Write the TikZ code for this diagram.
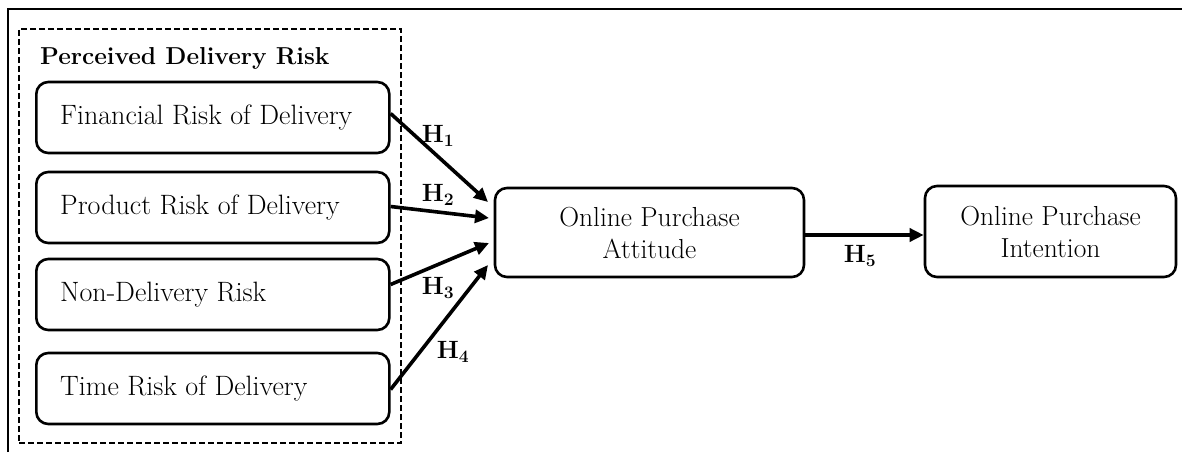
\documentclass[tikz,border=0pt]{standalone}
\usetikzlibrary{arrows.meta,calc}
\begin{document}
\begin{tikzpicture}[x=1pt,y=-1pt,
  riskbox/.style={draw,line width=2.6pt,rounded corners=12pt,minimum width=353pt,minimum height=71pt,anchor=west},
  mainbox/.style={draw,line width=2.6pt,rounded corners=12pt,align=center,font=\fontsize{27.5}{32}\selectfont},
  boxtext/.style={anchor=west,font=\fontsize{28}{32}\selectfont,inner sep=0pt},
  hlabel/.style={font=\fontsize{25}{30}\selectfont\bfseries,inner sep=0pt},
  hyp/.style={line width=3.6pt,-{Triangle[length=14pt,width=13pt]}}]
\useasboundingbox (0,0) rectangle (1182,452);
% outer frame (only top and left edges visible)
\draw[line width=2.6pt] (8,452) -- (8,9) -- (1182,9);
% dashed group
\node[draw,dash pattern=on 6pt off 3pt,line width=2pt,minimum width=382pt,minimum height=414pt,anchor=north west,inner sep=0pt] (grp) at (18,28) {};
\node[anchor=base west,font=\fontsize{24.5}{28}\selectfont\bfseries,inner sep=0pt] (title) at (40,64) {Perceived Delivery Risk};
% risk boxes
\node[riskbox] (b1) at (35,117.5) {};
\node[riskbox] (b2) at (35,207.5) {};
\node[riskbox] (b3) at (35,294.5) {};
\node[riskbox] (b4) at (35,388.5) {};
\node[boxtext] (t1) at (60,117.5) {Financial Risk of Delivery};
\node[boxtext] (t2) at (60,207.5) {Product Risk of Delivery};
\node[boxtext] (t3) at (60,294.5) {Non-Delivery Risk};
\node[boxtext] (t4) at (60,388.5) {Time Risk of Delivery};
% main boxes
\node[mainbox,minimum width=309pt,minimum height=89pt] (att) at (649.5,232.5) {Online Purchase\\Attitude};
\node[mainbox,minimum width=251pt,minimum height=91pt] (int) at (1050.5,231.5) {Online Purchase\\Intention};
% arrow targets
\coordinate (e1) at (488,202);
\coordinate (e2) at (489,218);
\coordinate (e3) at (489,243);
\coordinate (e4) at (488,265);
\draw[hyp] ($(b1.east)+(0,-4)$) -- (e1);
\draw[hyp] ($(b2.east)+(0,-1)$) -- (e2);
\draw[hyp] ($(b3.east)+(0,-10)$) -- (e3);
\draw[hyp] ($(b4.east)+(0,1)$) -- (e4);
\draw[hyp] ($(att.east)+(0,2.5)$) coordinate (s5) -- (s5 -| int.west);
% labels
\node[hlabel] (h1) at (438,136) {H\textsubscript{1}};
\node[hlabel] (h2) at (438,195) {H\textsubscript{2}};
\node[hlabel] (h3) at (438,288) {H\textsubscript{3}};
\node[hlabel] (h4) at (453,352) {H\textsubscript{4}};
\node[hlabel] (h5) at (860,256) {H\textsubscript{5}};
\end{tikzpicture}
\end{document}
